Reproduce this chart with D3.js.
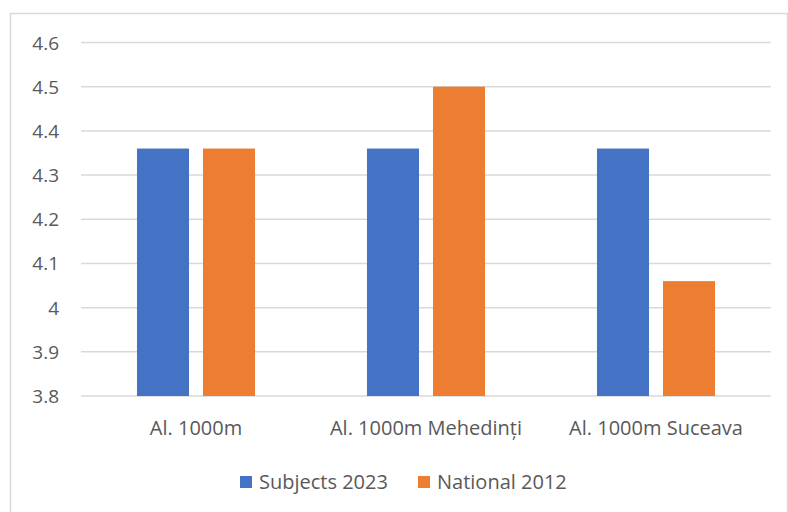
<!DOCTYPE html>
<html>
<head>
<meta charset="utf-8">
<script src="https://cdn.jsdelivr.net/npm/d3@7"></script>
<style>
  body { margin: 0; background: #fff; }
  text { font-family: "Open Sans", sans-serif; fill: #595959; }
</style>
</head>
<body>
<svg id="chart" width="788" height="512"></svg>
<script>
// chart data
const categories = ["Al. 1000m", "Al. 1000m Mehedinți", "Al. 1000m Suceava"];
const seriesNames = ["Subjects 2023", "National 2012"];
const subjects2023 = [4.36, 4.36, 4.36];
const national2012 = [4.36, 4.5, 4.06];
const yTicks = [3.8, 3.9, 4, 4.1, 4.2, 4.3, 4.4, 4.5, 4.6];
const colors = ["#4472C4", "#ED7D31"];

const svg = d3.select("#chart");

// outer frame
svg.append("rect")
  .attr("x", 10.5).attr("y", 13.5)
  .attr("width", 777).attr("height", 520)
  .attr("fill", "none").attr("stroke", "#d9d9d9").attr("stroke-width", 1.5);

const plotLeft = 81, plotRight = 771, plotTop = 42.5, plotBottom = 396;

let x = d3.scaleBand().domain(categories).range([plotLeft, plotRight]);
let xInner = d3.scaleBand().domain(seriesNames).range([0, x.bandwidth()])
  .paddingInner(0.212).paddingOuter(0.848);
let y = d3.scaleLinear().domain([3.8, 4.6]).range([plotBottom, plotTop]);

// gridlines
svg.append("g").selectAll("line").data(yTicks).join("line")
  .attr("x1", plotLeft).attr("x2", plotRight)
  .attr("y1", d => y(d)).attr("y2", d => y(d))
  .attr("stroke", "#d9d9d9").attr("stroke-width", 1.5);

// y labels
svg.append("g").selectAll("text").data(yTicks).join("text")
  .attr("x", 59).attr("y", d => y(d) + 7)
  .attr("text-anchor", "end")
  .attr("font-size", 19)
  .text(d => d);

let rows = categories.map((c, i) => ({cat: c, vals: [subjects2023[i], national2012[i]]}));

let groups = svg.append("g").selectAll("g").data(rows).join("g")
  .attr("transform", d => "translate(" + x(d.cat) + ",0)");

groups.selectAll("rect").data(d => d.vals.map((v, j) => ({name: seriesNames[j], value: v, j: j})))
  .join("rect")
  .attr("x", d => xInner(d.name))
  .attr("width", xInner.bandwidth())
  .attr("y", d => y(d.value))
  .attr("height", d => plotBottom - y(d.value))
  .attr("fill", d => colors[d.j]);

// x labels
svg.append("g").selectAll("text").data(categories).join("text")
  .attr("x", d => x(d) + x.bandwidth() / 2)
  .attr("y", 435)
  .attr("text-anchor", "middle")
  .attr("font-size", 20)
  .text(d => d);

// legend
let legendX = [240, 418];
let legend = svg.append("g").selectAll("g").data(seriesNames).join("g")
  .attr("transform", (d, i) => "translate(" + legendX[i] + ",476)");
legend.append("rect").attr("width", 12).attr("height", 12).attr("fill", (d, i) => colors[i]);
legend.append("text").attr("x", 19).attr("y", 13).attr("font-size", 20).text(d => d);
</script>
</body>
</html>
